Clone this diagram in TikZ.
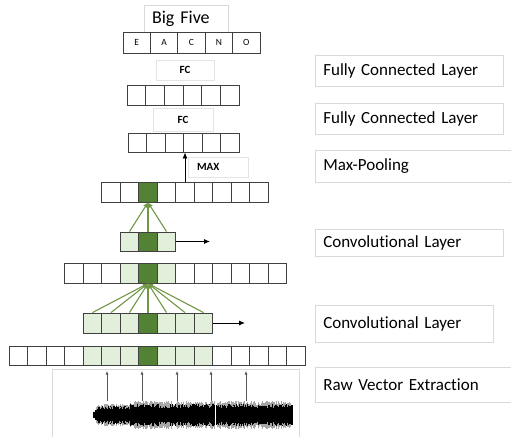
\documentclass[tikz,border=0pt]{standalone}
\usepackage{fontspec}
\setmainfont{Carlito}[Ligatures=NoCommon]
\usetikzlibrary{arrows.meta}
\definecolor{darkgreen}{RGB}{84,130,53}
\definecolor{lightgreen}{RGB}{226,239,218}
\definecolor{fangreen}{RGB}{112,150,70}
\definecolor{boxgray}{RGB}{217,217,217}
\definecolor{cellgray}{RGB}{64,64,64}

\begin{document}
\begin{tikzpicture}[x=1pt,y=-1pt,
        cell/.style = {draw=cellgray, line width=0.9pt, minimum width=18.5pt, minimum height=20pt, inner sep=0pt},
        blank/.style = {fill=white},
        soft/.style = {fill=lightgreen},
        core/.style = {fill=darkgreen},
        tag/.style = {draw=boxgray, line width=0.6pt, anchor=north west, inner xsep=8pt, inner ysep=2pt, align=left, font=\fontsize{17}{20}\selectfont},
        small/.style = {draw=boxgray!70, line width=0.6pt, inner sep=0pt, font=\bfseries\fontsize{11}{13}\selectfont},
        fan/.style = {draw=fangreen, line width=1.1pt, -{Latex[length=5pt,width=5pt]}},
        push/.style = {line width=0.9pt, -{Latex[length=6pt,width=5pt]}},
        rise/.style = {draw=black!65, line width=0.8pt, -{Latex[length=3.5pt,width=3pt]}}]
        \useasboundingbox (0,0) rectangle (511,437);

        % Big Five output
        \node[small, draw=boxgray, font=\fontsize{18}{20}\selectfont, text width=68pt, inner xsep=8pt, align=left, minimum height=27pt] (big) at (186,18.5) {Big Five};
        \foreach \t [count=\i] in {E,A,C,N,O}
            \node[cell, minimum width=27.4pt, minimum height=21pt, font=\fontsize{9.5}{11}\selectfont] (bf\i) at ({123+(\i-0.5)*27.4},42.5) {\t};

        % Fully connected layers
        \node[small, minimum width=58pt, minimum height=20pt] (fc1) at (185,70) {FC};
        \foreach \i in {1,...,6}
            \node[cell, minimum width=18.67pt] (fa\i) at ({127+(\i-0.5)*18.67},95) {};
        \node[small, minimum width=60pt, minimum height=23pt] (fc2) at (183,119.5) {FC};
        \foreach \i in {1,...,6}
            \node[cell, minimum height=19pt] (fb\i) at ({128+(\i-0.5)*18.5},142.5) {};

        % Max-pooling
        \node[small, text width=42pt, inner xsep=9pt, align=left, minimum height=20pt] (max) at (218,167) {MAX};
        \foreach \f [count=\i] in {blank,blank,core,blank,blank,blank,blank,blank,blank}
            \node[cell,\f] (p\i) at ({101.75+(\i-0.5)*18.5},192) {};
        \draw[push] (p5.north) -- (p5.north |- fb3.south);

        % Second convolution
        \foreach \f [count=\i] in {soft,core,soft}
            \node[cell,\f,minimum height=19pt] (c\i) at ({120.25+(\i-0.5)*18.5},241.5) {};
        \foreach \i in {1,2,3}
            \draw[fan] (c\i.north) -- (p3.south);
        \coordinate (cend) at (210,241.5);
        \draw[push] (c3.east) -- (cend);

        \foreach \f [count=\i] in {blank,blank,blank,soft,core,soft,blank,blank,blank,blank,blank,blank}
            \node[cell,\f] (r\i) at ({64.75+(\i-0.5)*18.5},273) {};

        % First convolution
        \foreach \f [count=\i] in {soft,soft,soft,core,soft,soft,soft}
            \node[cell,\f] (k\i) at ({83.25+(\i-0.5)*18.5},323) {};
        \foreach \i in {1,...,7}
            \draw[fan] (k\i.north) -- (r5.south);
        \coordinate (kend) at (245,323);
        \draw[push] (k7.east) -- (kend);

        \foreach \f [count=\i] in {blank,blank,blank,blank,soft,soft,soft,core,soft,soft,soft,blank,blank,blank,blank,blank}
            \node[cell,\f,minimum height=19pt] (b\i) at ({9.25+(\i-0.5)*18.5},355.5) {};

        % Raw waveform
        \draw[boxgray, line width=0.6pt] (52,437) -- (52,369) -- (299,369) -- (299,437);
        \pgfmathsetseed{17}
        \foreach \x in {93,93.5,...,292} {
            \pgfmathsetmacro\env{min(1,(\x-92)/6)*(\x<130 ? 0.8 : 1)}
            \pgfmathsetmacro\h{\env*(9+5*rnd)}
            \pgfmathsetmacro\g{\env*(5+4*rnd)}
            \pgfmathsetmacro\c{(\x<130 ? 0.8 : 1)}
            \draw[black!35, line width=0.4pt] (\x,{415-\h}) -- (\x,{415+\h});
            \draw[black, line width=0.6pt] (\x,{415-\g-2*\c}) -- (\x,{415+\g+2*\c});
        }
        \draw[white, line width=0.8pt] (215,398) -- (215,432);
        \foreach \x [count=\i] in {107,142,177,211,246} {
            \coordinate (s\i) at (\x,401);
            \coordinate (t\i) at (\x,371);
            \draw[rise] (s\i) -- (t\i);
        }

        % Layer names
        \node[tag, text width=172pt, minimum height=31pt] (fclab1) at (315,55) {Fully Connected Layer};
        \node[tag, text width=172pt, minimum height=31pt] (fclab2) at (315,103) {Fully Connected Layer};
        \node[tag, text width=190pt, minimum height=32pt] (poollab) at (315,150) {Max-Pooling};
        \node[tag, text width=172pt, minimum height=27pt] (convlab1) at (315,229) {Convolutional Layer};
        \node[tag, text width=162pt, minimum height=37pt] (convlab2) at (315,305) {Convolutional Layer};
        \node[tag, text width=190pt, minimum height=35pt] (rawlab) at (315,367) {Raw Vector Extraction};
    \end{tikzpicture}
\end{document}
